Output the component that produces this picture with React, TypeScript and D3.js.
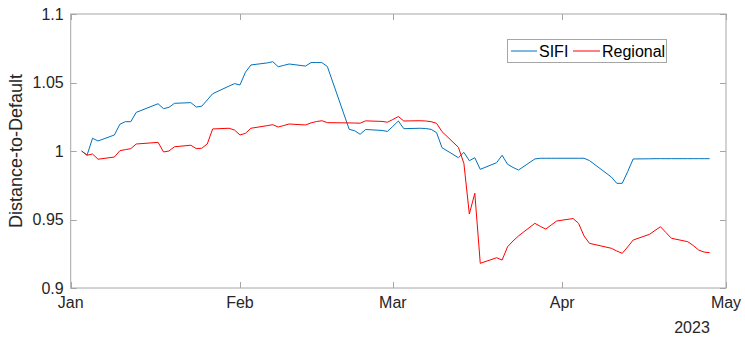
import React, { useEffect, useRef } from "react";
import * as d3 from "d3";

// Trading days, 2023
const dates: string[] = [
  "2023-01-03", "2023-01-04", "2023-01-05", "2023-01-06", "2023-01-09", "2023-01-10", "2023-01-11", "2023-01-12", "2023-01-13",
  "2023-01-17", "2023-01-18", "2023-01-19", "2023-01-20", "2023-01-23", "2023-01-24", "2023-01-25", "2023-01-26", "2023-01-27",
  "2023-01-30", "2023-01-31",
  "2023-02-01", "2023-02-02", "2023-02-03", "2023-02-06", "2023-02-07", "2023-02-08", "2023-02-09", "2023-02-10", "2023-02-13",
  "2023-02-14", "2023-02-15", "2023-02-16", "2023-02-17", "2023-02-21", "2023-02-22", "2023-02-23", "2023-02-24", "2023-02-27",
  "2023-02-28",
  "2023-03-01", "2023-03-02", "2023-03-03", "2023-03-06", "2023-03-07", "2023-03-08", "2023-03-09", "2023-03-10", "2023-03-13",
  "2023-03-14", "2023-03-15", "2023-03-16", "2023-03-17", "2023-03-20", "2023-03-21", "2023-03-22", "2023-03-23", "2023-03-24",
  "2023-03-27", "2023-03-28", "2023-03-29", "2023-03-30", "2023-03-31",
  "2023-04-03", "2023-04-04", "2023-04-05", "2023-04-06", "2023-04-10", "2023-04-11", "2023-04-12", "2023-04-13", "2023-04-14",
  "2023-04-17", "2023-04-18", "2023-04-19", "2023-04-20", "2023-04-21", "2023-04-24", "2023-04-25", "2023-04-26", "2023-04-27",
  "2023-04-28",
];

// Normalised distance-to-default, systemically important banks
const sifi: number[] = [
  1.0, 0.997, 1.0093, 1.0073, 1.0117, 1.0195, 1.0214, 1.0214, 1.0282,
  1.0345, 1.0309, 1.0319, 1.0348, 1.0353, 1.0321, 1.0327, 1.0372, 1.0418,
  1.0474, 1.0492,
  1.0482, 1.0575, 1.0628, 1.0643, 1.0652, 1.0615, 1.0625, 1.0635, 1.062,
  1.0645, 1.0646, 1.0645, 1.0617, 1.0158, 1.0148, 1.0122, 1.0157, 1.015,
  1.0143,
  1.018, 1.0219, 1.0163, 1.0166, 1.0164, 1.0158, 1.0134, 1.0024, 0.9951,
  0.999, 0.9929, 0.9951, 0.9866, 0.9915, 0.9969, 0.9903, 0.988, 0.9861,
  0.9942, 0.9947, 0.9947, 0.9947, 0.9947,
  0.9947, 0.9947, 0.9947, 0.993, 0.981, 0.9764, 0.9764, 0.985, 0.9942,
  0.9943, 0.9944, 0.9944, 0.9944, 0.9944, 0.9944, 0.9944, 0.9944, 0.9944,
  0.9944,
];

// Normalised distance-to-default, regional banks
const regional: number[] = [
  1.0, 0.9969, 0.9978, 0.994, 0.9956, 1.0002, 1.001, 1.0017, 1.0051,
  1.0063, 0.9993, 1.0, 1.0031, 1.0042, 1.0017, 1.002, 1.0051, 1.0161,
  1.0166, 1.0153,
  1.0117, 1.0129, 1.0166, 1.0185, 1.0192, 1.0175, 1.0186, 1.0197, 1.019,
  1.0205, 1.0215, 1.0221, 1.0207, 1.0205, 1.0204, 1.0203, 1.022, 1.0216,
  1.021,
  1.023, 1.0252, 1.0219, 1.0221, 1.0219, 1.0214, 1.0202, 1.0141, 1.0027,
  0.991, 0.954, 0.9691, 0.918, 0.9221, 0.9204, 0.9301, 0.9343, 0.938,
  0.9472, 0.945, 0.943, 0.946, 0.9489,
  0.9507, 0.9472, 0.938, 0.9326, 0.929, 0.927, 0.9253, 0.93, 0.935,
  0.9392, 0.942, 0.9447, 0.9405, 0.9363, 0.9338, 0.931, 0.9277, 0.9262,
  0.9258,
];

const seriesNames: string[] = ["SIFI", "Regional"];
const seriesColors: string[] = ["#0072BD", "#FF0000"];

const yTicks: number[] = [0.9, 0.95, 1, 1.05, 1.1];
const yTickLabels: string[] = ["0.9", "0.95", "1", "1.05", "1.1"];
const xTickDates: string[] = ["2023-01-01", "2023-02-01", "2023-03-01", "2023-04-01", "2023-05-01"];
const xTickLabels: string[] = ["Jan", "Feb", "Mar", "Apr", "May"];
const yearLabel = "2023";
const yAxisTitle = "Distance-to-Default";

const W = 745;
const H = 338;
const M = { left: 70.7, right: 726, top: 14, bottom: 288 };
const FONT = "'Liberation Sans', Arial, Helvetica, sans-serif";
const AXIS_COLOR = "#a6a6a6";
const TEXT_COLOR = "#262626";

export default function App() {
  const ref = useRef<SVGSVGElement | null>(null);

  useEffect(() => {
    const svg = d3.select(ref.current);
    svg.selectAll("*").remove();

    const parse = d3.utcParse("%Y-%m-%d");
    const xs = dates.map((d) => parse(d) as Date);

    const x = d3
      .scaleUtc()
      .domain([parse("2023-01-01") as Date, parse("2023-05-01") as Date])
      .range([M.left, M.right]);
    const y = d3.scaleLinear().domain([0.9, 1.1]).range([M.bottom, M.top]);

    // axes box
    svg
      .append("rect")
      .attr("x", M.left)
      .attr("y", M.top)
      .attr("width", M.right - M.left)
      .attr("height", M.bottom - M.top)
      .attr("fill", "white")
      .attr("stroke", AXIS_COLOR)
      .attr("stroke-width", 1);

    const tickLen = 6;
    const g = svg.append("g").attr("font-family", FONT).attr("fill", TEXT_COLOR);

    // y ticks (left and right, pointing inward)
    yTicks.forEach((v, i) => {
      const yy = Math.round(y(v)) + 0.5;
      g.append("line").attr("x1", M.left).attr("x2", M.left + tickLen).attr("y1", yy).attr("y2", yy).attr("stroke", AXIS_COLOR);
      g.append("line").attr("x1", M.right).attr("x2", M.right - tickLen).attr("y1", yy).attr("y2", yy).attr("stroke", AXIS_COLOR);
      g.append("text")
        .attr("x", M.left - 7)
        .attr("y", y(v))
        .attr("dy", "0.35em")
        .attr("text-anchor", "end")
        .attr("font-size", 16)
        .text(yTickLabels[i]);
    });

    // x ticks (bottom and top, pointing inward)
    xTickDates.forEach((d, i) => {
      const xx = Math.round(x(parse(d) as Date)) + 0.5;
      g.append("line").attr("x1", xx).attr("x2", xx).attr("y1", M.bottom).attr("y2", M.bottom - tickLen).attr("stroke", AXIS_COLOR);
      g.append("line").attr("x1", xx).attr("x2", xx).attr("y1", M.top).attr("y2", M.top + tickLen).attr("stroke", AXIS_COLOR);
      g.append("text")
        .attr("x", x(parse(d) as Date))
        .attr("y", M.bottom + 20)
        .attr("text-anchor", "middle")
        .attr("font-size", 16)
        .text(xTickLabels[i]);
    });

    g.append("text")
      .attr("x", 692)
      .attr("y", 333)
      .attr("text-anchor", "middle")
      .attr("font-size", 16)
      .text(yearLabel);

    g.append("text")
      .attr("transform", `translate(22,${(M.top + M.bottom) / 2}) rotate(-90)`)
      .attr("text-anchor", "middle")
      .attr("font-size", 18)
      .text(yAxisTitle);

    // series lines
    const line = d3
      .line<number>()
      .x((_, i) => x(xs[i]))
      .y((v) => y(v));

    [sifi, regional].forEach((vals, k) => {
      svg
        .append("path")
        .datum(vals)
        .attr("d", line)
        .attr("fill", "none")
        .attr("stroke", seriesColors[k])
        .attr("stroke-width", 1)
        .attr("stroke-linejoin", "round");
    });

    // legend
    const lg = svg.append("g").attr("font-family", FONT);
    lg.append("rect")
      .attr("x", 507.5)
      .attr("y", 39.5)
      .attr("width", 159)
      .attr("height", 23)
      .attr("fill", "white")
      .attr("stroke", AXIS_COLOR);
    const entries = [
      { x1: 511, x2: 537, tx: 539 },
      { x1: 573, x2: 600, tx: 602 },
    ];
    entries.forEach((e, k) => {
      lg.append("line")
        .attr("x1", e.x1)
        .attr("x2", e.x2)
        .attr("y1", 51)
        .attr("y2", 51)
        .attr("stroke", seriesColors[k])
        .attr("stroke-width", 1);
      lg.append("text")
        .attr("x", e.tx)
        .attr("y", 51)
        .attr("dy", "0.35em")
        .attr("font-size", 16)
        .attr("fill", "#000")
        .text(seriesNames[k]);
    });
  }, []);

  return (
    <svg
      ref={ref}
      width={W}
      height={H}
      style={{ position: "absolute", left: 0, top: 0, background: "white" }}
    />
  );
}
